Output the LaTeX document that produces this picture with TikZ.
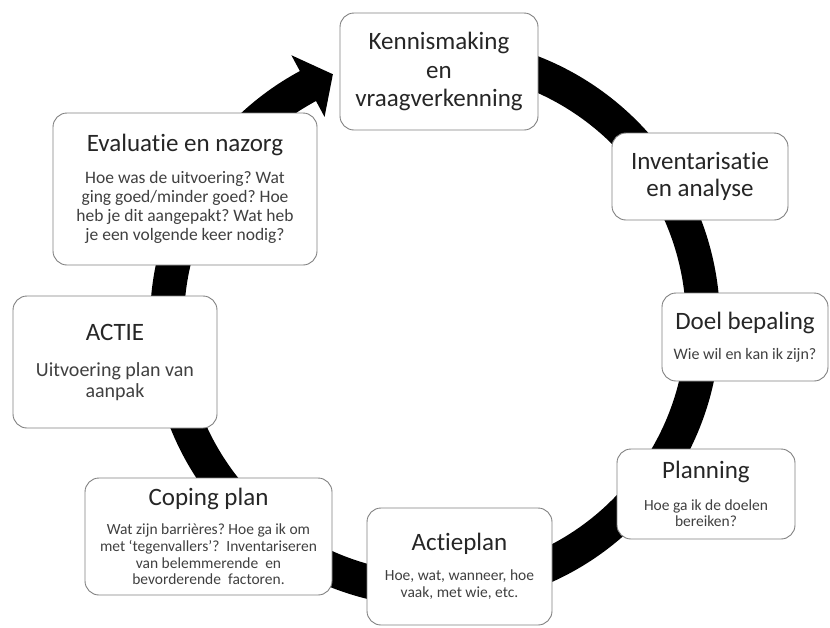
\documentclass[tikz,border=0pt]{standalone}
\usepackage{fontspec}
\setmainfont{Carlito}[Ligatures={TeX,NoCommon}]
\usetikzlibrary{calc}
\frenchspacing
\newcommand\TtlF{\fontsize{25}{28.5}\selectfont\color{black!85}}
\newcommand\BdyEval{\fontsize{17.5}{19}\selectfont\color{black!75}}
\newcommand\BdyActie{\fontsize{20}{21}\selectfont\color{black!75}}
\newcommand\BdySmall{\fontsize{15.5}{16.8}\selectfont\color{black!75}}
\newcommand\BdyDoel{\fontsize{16}{18}\selectfont\color{black!75}}
\begin{document}
\begin{tikzpicture}[x=1pt,y=1pt,
  box/.style={draw=black!50, line width=0.9pt, fill=white, rounded corners=14pt,
    align=center, inner sep=0pt},
  ring/.style={line width=34pt, black},
  ringhead/.style={fill=black}
]
\useasboundingbox (0,0) rectangle (830,-627);
\coordinate (c) at (435,-322);
% ring with arrow head
\draw[ring] (c) ++(100:268) arc[start angle=100, end angle=-242, radius=268pt];
\fill[ringhead] ($(c)+(118.3:233)$) -- ($(c)+(118.3:303)$) -- ($(c)+(112.4:268)$) -- cycle;
% boxes
\node[box, minimum width=198pt, minimum height=117pt, font=\TtlF] (kenn) at (439,-71.5)
  {Kennismaking\\en\\vraagverkenning};
\node[box, minimum width=176pt, minimum height=87pt, font=\fontsize{25}{26.7}\selectfont\color{black!85}] (inv) at (700,-176.5)
  {Inventarisatie\\en analyse};
\node[box, minimum width=166pt, minimum height=88pt, font=\BdyDoel] (doel) at (745,-337)
  {{\TtlF Doel bepaling}\\[12pt]Wie wil en kan ik zijn?};
\node[box, minimum width=178pt, minimum height=90pt, font=\BdySmall] (plan) at (706,-494)
  {{\TtlF Planning}\\[15pt]Hoe ga ik de doelen\\bereiken?};
\node[box, minimum width=185pt, minimum height=117pt, font=\BdySmall] (actp) at (459.5,-566.5)
  {{\TtlF Actieplan}\\[13.3pt]Hoe, wat, wanneer, hoe\\vaak, met wie, etc.};
\node[box, minimum width=247pt, minimum height=117pt, font=\BdySmall] (coping) at (208.5,-536.5)
  {{\TtlF Coping plan}\\[12.3pt]Wat zijn barrières? Hoe ga ik om\\met ‘tegenvallers’?\ \ Inventariseren\\van belemmerende\ \ en\\bevorderende\ \ factoren.};
\node[box, minimum width=204pt, minimum height=132pt, font=\BdyActie] (actie) at (115,-362)
  {{\TtlF ACTIE}\\[15pt]Uitvoering plan van\\aanpak};
\node[box, minimum width=264pt, minimum height=152pt, font=\BdyEval] (eval) at (185,-189)
  {{\TtlF Evaluatie en nazorg}\\[12.7pt]Hoe was de uitvoering? Wat\\ging goed/minder goed? Hoe\\heb je dit aangepakt? Wat heb\\je een volgende keer nodig?};
\end{tikzpicture}
\end{document}
